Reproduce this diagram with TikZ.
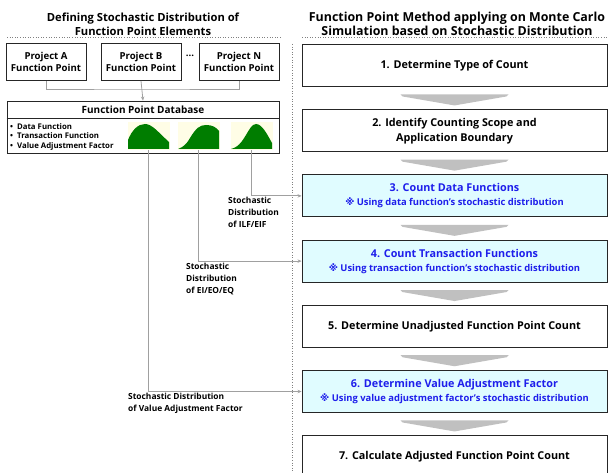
\documentclass[tikz,border=0pt]{standalone}
\usepackage{fontspec}
\setmainfont{Open Sans}
\newfontfamily\symfont{DejaVu Sans}
\usetikzlibrary{positioning}
\usetikzlibrary{arrows.meta}
\usetikzlibrary{calc}
\usepackage{xcolor}

\definecolor{hlcyan}{RGB}{224,252,255}
\definecolor{hlblue}{RGB}{30,30,235}
\definecolor{distgreen}{RGB}{0,125,0}
\definecolor{distcream}{RGB}{255,253,230}
\definecolor{linegray}{RGB}{160,160,160}
\definecolor{arrowgray}{RGB}{192,192,192}

\tikzset{
  stepbox/.style={draw=black!85, line width=0.9pt, fill=white, minimum width=305pt,
    minimum height=42pt, align=center, inner sep=0pt,
    font=\bfseries\fontsize{10.8}{15}\selectfont},
  hlbox/.style={stepbox, fill=hlcyan, text=hlblue, font=\bfseries\fontsize{10.8}{14}\selectfont},
  projbox/.style={draw=black!85, line width=0.9pt, fill=white, minimum width=80pt,
    minimum height=37pt, align=center, inner sep=0pt,
    font=\bfseries\fontsize{9.6}{12.5}\selectfont},
  headline/.style={align=center, inner sep=0pt, font=\bfseries\fontsize{12.4}{14}\selectfont},
  note/.style={anchor=north west, align=left, inner sep=0pt,
    font=\bfseries\fontsize{8.4}{12}\selectfont},
  distbg/.style={fill=distcream, minimum width=42pt, minimum height=28pt, inner sep=0pt},
  conn/.style={draw=linegray, line width=0.8pt},
  tip/.style={-{Stealth[length=4pt,width=3.5pt]}},
  sep/.style={draw=gray, dotted, line width=0.6pt},
}

\begin{document}
\begin{tikzpicture}[x=1pt,y=-1pt]
\useasboundingbox (0,0) rectangle (611,473);

% headings
\node[headline, font=\bfseries\fontsize{11.2}{14}\selectfont] (ltitle) at (143,24)
  {Defining Stochastic Distribution of\\Function Point Elements};
\node[headline] (rtitle) at (457,24)
  {Function Point Method applying on Monte Carlo\\Simulation based on Stochastic Distribution};

\draw[sep] (7,37.5) -- (282,37.5);
\draw[sep] (302,37.5) -- (608,37.5);
\draw[sep] (292,44) -- (292,473);

% projects
\node[projbox] (pA) at (46,62) {Project A\\Function Point};
\node[projbox] (pB) at (141,62) {Project B\\Function Point};
\node[projbox] (pN) at (239,62) {Project N\\Function Point};
\node[font=\bfseries\fontsize{9.6}{12}\selectfont, inner sep=0pt] (dots) at (190,56) {...};

\coordinate (join) at (141,89);
\draw[conn] (pA.south) |- (join) -| (pN.south);

% database
\node[draw=black!85, line width=0.9pt, minimum width=272pt, minimum height=52pt, inner sep=0pt] (db) at (143,127) {};
\draw[conn, tip] (pB.south) -- (db.north);
\node[font=\bfseries\fontsize{10}{11}\selectfont, inner sep=0pt] (dbtitle) at (143,110) {Function Point Database};
\draw[black!85, line width=0.9pt] ([yshift=-18pt]db.north west) -- ([yshift=-18pt]db.north east);
\node[note, font=\bfseries\fontsize{7.8}{9.8}\selectfont] (dbitems) at (10,123)
  {•\hspace{4pt}Data Function\\•\hspace{4pt}Transaction Function\\•\hspace{4pt}Value Adjustment Factor};

% distributions
\node[distbg] (d1) at (148.5,136) {};
\node[distbg] (d2) at (198.5,136) {};
\node[distbg] (d3) at (251.5,136) {};

\fill[distgreen] (128,149) -- (128,140) .. controls (132,130) and (138,124) .. (145,124)
  .. controls (152,124) and (158,132) .. (169,142) -- (169,149) -- cycle;
\fill[distgreen] (178,149) .. controls (183,147) and (186,145) .. (190,138)
  .. controls (196,128) and (200,125) .. (206,125)
  .. controls (212,125) and (216,127) .. (219,131) -- (219,149) -- cycle;
\fill[distgreen] (231,149) .. controls (240,147) and (244,138) .. (249,130)
  .. controls (252,125) and (254,124) .. (256,124)
  .. controls (262,124) and (267,134) .. (272,143) -- (272,149) -- cycle;

% steps
\node[stepbox] (s1) at (454.5,65.5) {1. Determine Type of Count};
\node[stepbox, below=22.3pt of s1] (s2) {2. Identify Counting Scope and\\Application Boundary};
\node[hlbox, below=22.3pt of s2] (s3) {3. Count Data Functions\\{\fontsize{9.4}{10}\selectfont{\symfont ※} Using data function’s stochastic distribution}};
\node[hlbox, below=22.3pt of s3] (s4) {4. Count Transaction Functions\\{\fontsize{9.4}{10}\selectfont{\symfont ※} Using transaction function’s stochastic distribution}};
\node[stepbox, below=22.3pt of s4] (s5) {5. Determine Unadjusted Function Point Count};
\node[hlbox, below=22.3pt of s5] (s6) {6. Determine Value Adjustment Factor\\{\fontsize{9.4}{10}\selectfont{\symfont ※} Using value adjustment factor’s stochastic distribution}};
\node[stepbox, below=22.3pt of s6] (s7) {7. Calculate Adjusted Function Point Count};

\foreach \s in {s1,s2,s3,s4,s5,s6}{
  \fill[arrowgray] ($(\s.south)+(-54,7.5)$) -- ($(\s.south)+(54,7.5)$) -- ($(\s.south)+(52,9.5)$)
    -- ($(\s.south)+(0,18.5)$) -- ($(\s.south)+(-52,9.5)$) -- cycle;
}

% connectors
\draw[conn, tip] (d3.south) |- (s3.west);
\draw[conn, tip] (d2.south) |- (s4.west);
\draw[conn, tip] (d1.south) |- (s6.west);

\node[note] (lbILF) at (228,197) {Stochastic\\Distribution\\of ILF/EIF};
\node[note] (lbEI) at (186,263) {Stochastic\\Distribution\\of EI/EO/EQ};
\node[note, font=\bfseries\fontsize{8.4}{11.5}\selectfont] (lbVAF) at (128,393) {Stochastic Distribution\\of Value Adjustment Factor};

\end{tikzpicture}
\end{document}
